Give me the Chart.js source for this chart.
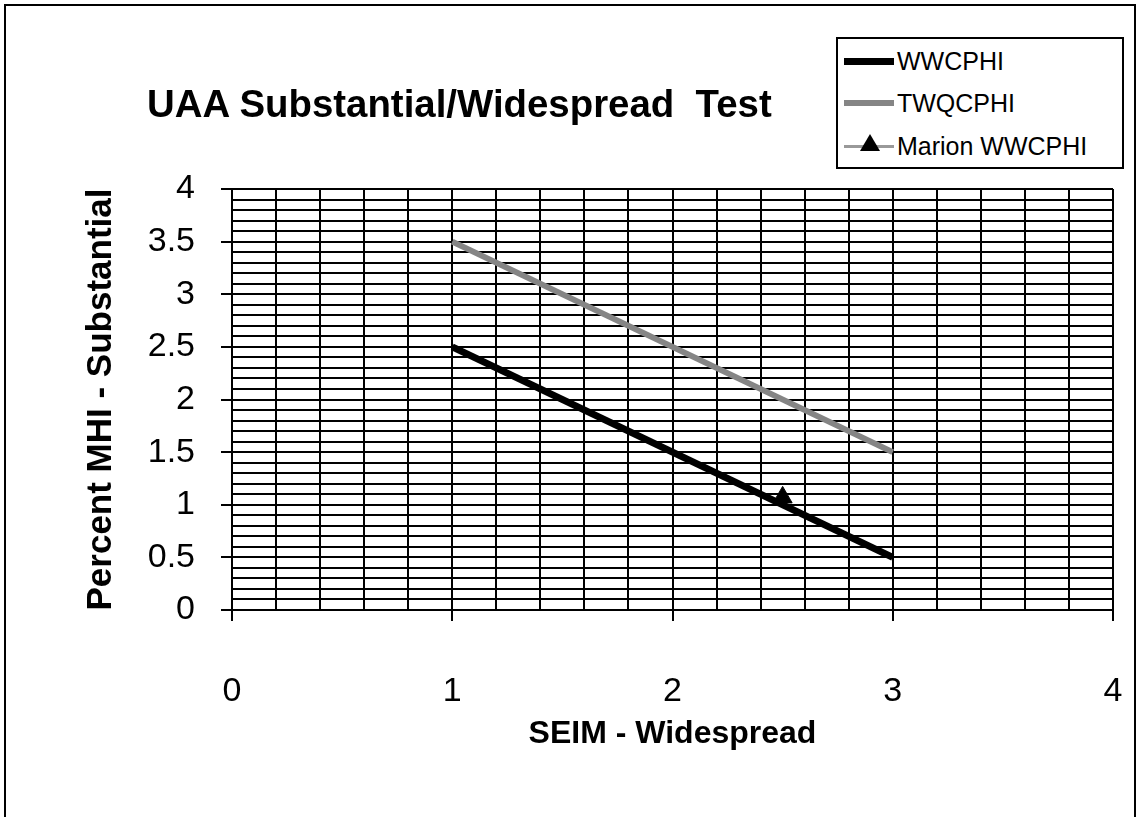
<!DOCTYPE html>
<html>
<head>
<meta charset="utf-8">
<script src="https://cdn.jsdelivr.net/npm/chart.js@4"></script>
<style>
  html, body { margin: 0; padding: 0; background: #fff; }
  body { width: 1138px; height: 817px; position: relative; overflow: hidden; font-family: "Liberation Sans", Arial, sans-serif; }
  #frame { position: absolute; left: 4px; top: 4px; width: 1128px; height: 830px; border: 2px solid #000; }
  #wrap { position: absolute; left: 0; top: 0; width: 1138px; height: 817px; }
  #title { position: absolute; left: 147px; top: 82px; font-weight: bold; font-size: 38.4px; white-space: pre; }
  #legend { position: absolute; left: 836px; top: 37px; width: 284px; height: 128px; border: 2px solid #000; background: #fff; }
  .row { position: absolute; left: 6px; height: 30px; display: flex; align-items: center; font-size: 25px; }
  .sw { width: 50px; margin-right: 3px; position: relative; height: 8px; }
  .sw span { position: absolute; left: 0; right: 0; top: 50%; }
  .tri { position: absolute; left: 16px; top: -8px; width: 0; height: 0; border-left: 10px solid transparent; border-right: 10px solid transparent; border-bottom: 17px solid #000; }
</style>
</head>
<body>
<div id="frame"></div>
<div id="wrap"><canvas id="graph" width="1138" height="817"></canvas></div>
<div id="title">UAA Substantial/Widespread  Test</div>
<div id="legend">
  <div class="row" style="top:7px"><div class="sw"><span style="height:7px;margin-top:-3.5px;background:#000"></span></div>WWCPHI</div>
  <div class="row" style="top:49px"><div class="sw"><span style="height:6px;margin-top:-3px;background:#858585"></span></div>TWQCPHI</div>
  <div class="row" style="top:92px"><div class="sw"><span style="height:3px;margin-top:-1.5px;background:#999"></span><div class="tri"></div></div>Marion WWCPHI</div>
</div>
<script>
const xVals = [1, 3]
const wwcphi = [2.5, 0.5]
const twqcphi = [3.5, 1.5]
const marionX = [2.5]
const marion = [1.07]

const toPts = (xs, ys) => xs.map((x, i) => ({x: x, y: ys[i]}))

const isMult = (v, m) => Math.abs(v / m - Math.round(v / m)) < 1e-6

const chart = new Chart(
  document.getElementById('graph'),
  {
    type: 'scatter',
    data: {
      datasets: [
        {
          label: 'WWCPHI',
          data: toPts(xVals, wwcphi),
          showLine: true,
          borderColor: '#000',
          borderWidth: 7,
          pointRadius: 0
        },
        {
          label: 'TWQCPHI',
          data: toPts(xVals, twqcphi),
          showLine: true,
          borderColor: '#858585',
          borderWidth: 6,
          pointRadius: 0
        },
        {
          label: 'Marion WWCPHI',
          data: toPts(marionX, marion),
          pointStyle: 'triangle',
          pointRadius: 11,
          backgroundColor: '#000',
          borderColor: '#000'
        }
      ]
    },
    options: {
      responsive: false,
      animation: false,
      devicePixelRatio: 1,
      layout: { padding: { top: 189, right: 25, left: 0, bottom: 0 } },
      plugins: {
        legend: { display: false },
        tooltip: { enabled: false }
      },
      scales: {
        x: {
          type: 'linear',
          min: 0,
          max: 4,
          afterFit: scale => {
            scale.height = 207
            scale.paddingRight = 0
            scale.paddingLeft = 0
          },
          border: { color: '#000', width: 2 },
          grid: {
            color: '#000',
            lineWidth: 2,
            tickLength: 11,
            tickColor: ctx => isMult(ctx.tick.value, 1) ? '#000' : 'rgba(0,0,0,0)'
          },
          ticks: {
            stepSize: 0.2,
            autoSkip: false,
            maxRotation: 0,
            padding: 50,
            color: '#000',
            font: { family: 'Liberation Sans', size: 34 },
            callback: v => isMult(v, 1) ? String(Math.round(v)) : ''
          },
          title: {
            display: true,
            text: 'SEIM - Widespread',
            color: '#000',
            font: { family: 'Liberation Sans', size: 32, weight: 'bold' },
            padding: { top: 0, bottom: 64 }
          }
        },
        y: {
          type: 'linear',
          min: 0,
          max: 4,
          afterFit: scale => { scale.width = 232 },
          border: { color: '#000', width: 2 },
          grid: {
            color: '#000',
            lineWidth: 2,
            tickLength: 11,
            tickColor: ctx => isMult(ctx.tick.value, 0.5) ? '#000' : 'rgba(0,0,0,0)'
          },
          ticks: {
            stepSize: 0.1,
            autoSkip: false,
            padding: 26,
            color: '#000',
            font: { family: 'Liberation Sans', size: 34 },
            callback: v => isMult(v, 0.5) ? String(Math.round(v * 2) / 2) : ''
          },
          title: {
            display: true,
            text: 'Percent MHI - Substantial',
            color: '#000',
            font: { family: 'Liberation Sans', size: 35, weight: 'bold' },
            padding: { top: 80, bottom: 0 }
          }
        }
      }
    }
  }
)
</script>
</body>
</html>
